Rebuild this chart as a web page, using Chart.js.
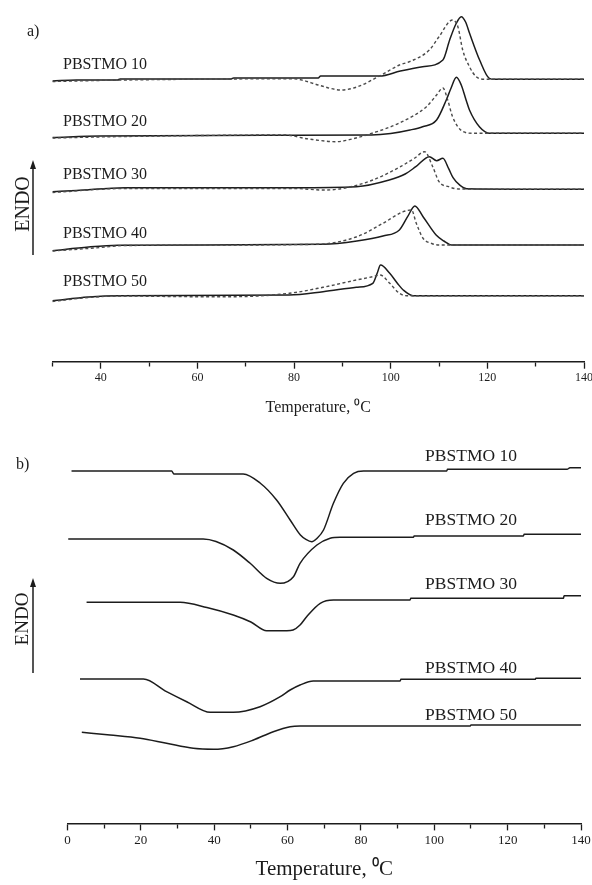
<!DOCTYPE html>
<html>
<head>
<meta charset="utf-8">
<script src="https://cdn.jsdelivr.net/npm/chart.js@4/dist/chart.umd.min.js"></script>
<style>
html,body{margin:0;padding:0;background:#fff;}
#wrap{position:relative;width:592px;height:885px;overflow:hidden;background:#fff;}
canvas{position:absolute;left:0;}
</style>
</head>
<body>
<div id="wrap">
<canvas id="ca" width="610" height="420" style="top:0px"></canvas>
<canvas id="cb" width="610" height="465" style="top:420px"></canvas>
</div>
<script>
// ---------- DATA (temperature in °C, heat flow in arbitrary offset units) ----------
// Panel a) : heating scans (solid and dashed curves)
const a10SolidT = [30, 35, 43.5, 44, 67, 67.5, 85, 85.5, 97.7, 102, 106.6, 110.8, 112.2, 113.5, 114.6, 115.5, 116.3, 118.4, 120.4, 121.5, 140];
const a10SolidH = [28.07, 28.17, 28.17, 28.27, 28.27, 28.38, 28.38, 28.57, 28.57, 29.07, 29.50, 30.17, 32.17, 33.77, 34.50, 33.97, 32.87, 30.17, 28.34, 28.24, 28.24];
const a10DashT  = [30, 45, 67, 80, 82, 85, 89.8, 93, 97.7, 101.8, 103.9, 108, 110, 112.8, 113.9, 114.9, 116.3, 117.7, 119.7, 140];
const a10DashH  = [28.02, 28.17, 28.27, 28.3, 28.12, 27.67, 27.17, 27.47, 28.57, 29.67, 30.0, 31.17, 32.5, 34.17, 33.5, 31.17, 29.5, 28.5, 28.24, 28.24];

const a20SolidT = [30, 40, 78, 96, 100, 104, 106.6, 109.5, 111.5, 112.5, 113.6, 114.6, 115.6, 116.3, 118.4, 120.5, 140];
const a20SolidH = [22.42, 22.57, 22.64, 22.67, 22.82, 23.17, 23.50, 24.17, 26.17, 27.37, 28.44, 27.67, 26.17, 25.17, 23.47, 22.84, 22.84];
const a20DashT  = [30, 45, 78, 83, 88.8, 92, 96.3, 101.8, 107.4, 109.5, 110.8, 111.8, 112.8, 115, 117, 140];
const a20DashH  = [22.37, 22.52, 22.67, 22.27, 22.0, 22.27, 22.87, 23.87, 25.5, 26.67, 27.37, 26.17, 24.5, 23.0, 22.84, 22.84];

const a30SolidT = [30, 35, 45, 80, 92.9, 99.7, 103, 105.2, 108, 109.5, 110.8, 112, 112.9, 114.3, 115.7, 140];
const a30SolidH = [17.0, 17.12, 17.4, 17.4, 17.5, 18.17, 18.77, 19.5, 20.5, 20.1, 20.34, 19.3, 18.4, 17.65, 17.3, 17.24];
const a30DashT  = [30, 45, 80, 86, 90, 96.3, 102, 105, 107, 108.7, 110, 112, 114, 140];
const a30DashH  = [16.92, 17.32, 17.32, 17.17, 17.32, 18.17, 19.5, 20.37, 21.0, 19.5, 18.0, 17.5, 17.27, 17.24];

const a40SolidT = [30, 37.5, 43.6, 86, 93, 98.4, 101.8, 103.5, 105, 106.7, 109.4, 111, 112.6, 140];
const a40SolidH = [11.1, 11.47, 11.64, 11.74, 12.07, 12.57, 13.17, 14.5, 15.57, 14.5, 12.67, 12.07, 11.67, 11.67];
const a40DashT  = [30, 40, 45, 84.7, 93, 98.4, 102.6, 104.3, 105.3, 106.7, 108.5, 110, 140];
const a40DashH  = [11.07, 11.42, 11.62, 11.74, 12.5, 13.84, 15.0, 15.17, 13.84, 12.34, 11.82, 11.67, 11.67];

const a50SolidT = [30, 37.5, 44, 79, 86, 92.9, 96.3, 97.2, 97.9, 99.8, 101.5, 102.6, 104.6, 140];
const a50SolidH = [6.1, 6.47, 6.6, 6.67, 7.0, 7.44, 7.84, 8.84, 9.67, 8.84, 7.77, 7.17, 6.6, 6.6];
const a50DashT  = [30, 37.5, 44, 60, 67.4, 79, 86, 92.9, 96.3, 97.8, 99.8, 101.8, 103.3, 140];
const a50DashH  = [6.02, 6.42, 6.57, 6.5, 6.5, 6.84, 7.44, 8.17, 8.5, 8.67, 7.84, 6.84, 6.6, 6.6];

// Panel b) : cooling scans
const b10T = [1.1, 28.4, 29, 47.9, 52.5, 57, 60.7, 63.5, 65, 66.6, 68, 69.8, 72.5, 75.2, 78, 80.7, 103.4, 103.6, 136.2, 137, 140];
const b10H = [35.24, 35.24, 34.94, 34.94, 34.04, 32.34, 30.34, 28.84, 28.4, 28.17, 28.5, 29.34, 32.01, 34.01, 35.01, 35.24, 35.24, 35.41, 35.41, 35.57, 35.57];
const b20T = [0.2, 37, 40.5, 45.2, 49.8, 54.3, 58, 61.6, 63.4, 68, 71.6, 74.3, 94.3, 94.5, 124.3, 124.5, 140];
const b20H = [28.44, 28.44, 28.19, 27.34, 26.01, 24.51, 24.01, 24.67, 26.01, 27.84, 28.51, 28.61, 28.61, 28.74, 28.74, 28.91, 28.91];
const b30T = [5.2, 30.7, 38, 45.2, 50, 54.3, 59.8, 61.5, 63.4, 65.2, 68.9, 72.5, 93.4, 93.6, 135.2, 135.4, 140];
const b30H = [22.11, 22.11, 21.59, 20.84, 20.14, 19.27, 19.27, 19.34, 19.84, 20.67, 22.01, 22.34, 22.34, 22.51, 22.51, 22.77, 22.77];
const b40T = [3.4, 20.7, 27, 32.5, 38.9, 45.2, 52.5, 58, 60.7, 63.4, 67, 90.7, 90.9, 127.5, 127.7, 140];
const b40H = [14.44, 14.44, 13.17, 12.17, 11.11, 11.11, 11.67, 12.67, 13.34, 13.84, 14.24, 14.24, 14.41, 14.41, 14.51, 14.51];
const b50T = [3.9, 11.6, 19.8, 27, 34.3, 39.8, 45.2, 50.7, 56.1, 60.7, 63.4, 109.8, 110, 140];
const b50H = [9.11, 8.84, 8.51, 8.01, 7.51, 7.41, 7.67, 8.34, 9.17, 9.67, 9.74, 9.74, 9.84, 9.84];

const sampleNames = ['PBSTMO 10', 'PBSTMO 20', 'PBSTMO 30', 'PBSTMO 40', 'PBSTMO 50'];
const axisTitle = 'Temperature, \u2070C';

// ---------- helpers ----------
const SERIF = '"Liberation Serif", "Times New Roman", serif';
const INK = '#1c1c1c';
const zip = (t, h) => t.map((v, i) => ({x: v, y: h[i]}));
const solid = (t, h) => ({data: zip(t, h), borderColor: INK, borderWidth: 1.5, cubicInterpolationMode: 'monotone', pointRadius: 0, fill: false});
const dashed = (t, h) => ({data: zip(t, h), borderColor: '#4a4a4a', borderWidth: 1.4, borderDash: [3, 2.5], cubicInterpolationMode: 'monotone', pointRadius: 0, fill: false});

function annotPlugin(cfg) {
  return {
    id: 'annot_' + cfg.letter,
    afterDraw(chart) {
      const {ctx} = chart;
      const x = chart.scales.x, y = chart.scales.y;
      ctx.save();
      ctx.fillStyle = INK;
      ctx.strokeStyle = INK;
      ctx.textBaseline = 'middle';
      ctx.textAlign = 'left';
      ctx.font = cfg.letterFont;
      ctx.fillText(cfg.letter, cfg.letterX, cfg.letterY);
      ctx.font = cfg.labelFont;
      sampleNames.forEach((n, i) => {
        ctx.fillText(n, x.getPixelForValue(cfg.labelT), y.getPixelForValue(cfg.labelH[i]));
      });
      const ax = cfg.arrowX;
      const yTip = y.getPixelForValue(cfg.arrowTop);
      const yBot = y.getPixelForValue(cfg.arrowBottom);
      ctx.lineWidth = 1.5;
      ctx.beginPath();
      ctx.moveTo(ax, yBot);
      ctx.lineTo(ax, yTip + 6);
      ctx.stroke();
      ctx.beginPath();
      ctx.moveTo(ax, yTip);
      ctx.lineTo(ax - 3, yTip + 9);
      ctx.lineTo(ax + 3, yTip + 9);
      ctx.closePath();
      ctx.fill();
      ctx.font = cfg.endoFont;
      ctx.translate(cfg.endoX, y.getPixelForValue(cfg.endoH));
      ctx.rotate(-Math.PI / 2);
      ctx.textAlign = 'center';
      ctx.fillText('ENDO', 0, 0);
      ctx.restore();
    }
  };
}

function xAxis(min, max, tickSize, titleSize, axisHeight, titlePadBottom) {
  return {
    type: 'linear', position: 'bottom', min: min, max: max,
    afterFit: (s) => { s.height = axisHeight; },
    ticks: {
      stepSize: 10, autoSkip: false, maxRotation: 0, padding: 2,
      color: INK, font: {family: SERIF, size: tickSize},
      callback: (v) => (v % 20 === 0 ? String(v) : '')
    },
    grid: {
      drawOnChartArea: false, drawTicks: true, tickLength: 7,
      tickColor: INK, tickWidth: 1.3,
      tickBorderDash: (c) => (c.tick && c.tick.value % 20 === 0 ? [] : [4, 20])
    },
    border: {display: true, color: INK, width: 1.5},
    title: {display: true, text: axisTitle, color: INK, font: {family: SERIF, size: titleSize}, padding: {top: 0, bottom: titlePadBottom}}
  };
}

Chart.defaults.font.family = SERIF;

new Chart(document.getElementById('ca'), {
  type: 'line',
  data: {datasets: [
    dashed(a10DashT, a10DashH), solid(a10SolidT, a10SolidH),
    dashed(a20DashT, a20DashH), solid(a20SolidT, a20SolidH),
    dashed(a30DashT, a30DashH), solid(a30SolidT, a30SolidH),
    dashed(a40DashT, a40DashH), solid(a40SolidT, a40SolidH),
    dashed(a50DashT, a50DashH), solid(a50SolidT, a50SolidH)
  ]},
  options: {
    responsive: false, animation: false, devicePixelRatio: 1,
    layout: {padding: {left: 52.4, right: 26, top: 0, bottom: 0}},
    plugins: {legend: {display: false}, tooltip: {enabled: false}},
    scales: {
      x: xAxis(30, 140, 12, 16, 58.3, 3),
      y: {display: false, min: 0, max: 36.17}
    }
  },
  plugins: [annotPlugin({
    letter: 'a)', letterX: 27, letterY: 32, letterFont: '16px ' + SERIF,
    labelFont: '16px ' + SERIF, labelT: 32.2, labelH: [29.67, 24.0, 18.67, 12.84, 8.0],
    arrowX: 33, arrowTop: 20.17, arrowBottom: 10.67,
    endoX: 24, endoH: 15.77, endoFont: '20px ' + SERIF
  })]
});

new Chart(document.getElementById('cb'), {
  type: 'line',
  data: {datasets: [
    solid(b10T, b10H), solid(b20T, b20H), solid(b30T, b30H), solid(b40T, b40H), solid(b50T, b50H)
  ]},
  options: {
    responsive: false, animation: false, devicePixelRatio: 1,
    layout: {padding: {left: 67.5, right: 29, top: 0, bottom: 0}},
    plugins: {legend: {display: false}, tooltip: {enabled: false}},
    scales: {
      x: xAxis(0, 140, 13, 21, 61.6, 3),
      y: {display: false, min: 0, max: 40.34}
    }
  },
  plugins: [annotPlugin({
    letter: 'b)', letterX: 16, letterY: 45, letterFont: '16px ' + SERIF,
    labelFont: '17.5px ' + SERIF, labelT: 97.5, labelH: [36.74, 30.34, 23.94, 15.54, 10.84],
    arrowX: 33, arrowTop: 24.54, arrowBottom: 15.04,
    endoX: 23, endoH: 20.44, endoFont: '19px ' + SERIF
  })]
});
</script>
</body>
</html>
